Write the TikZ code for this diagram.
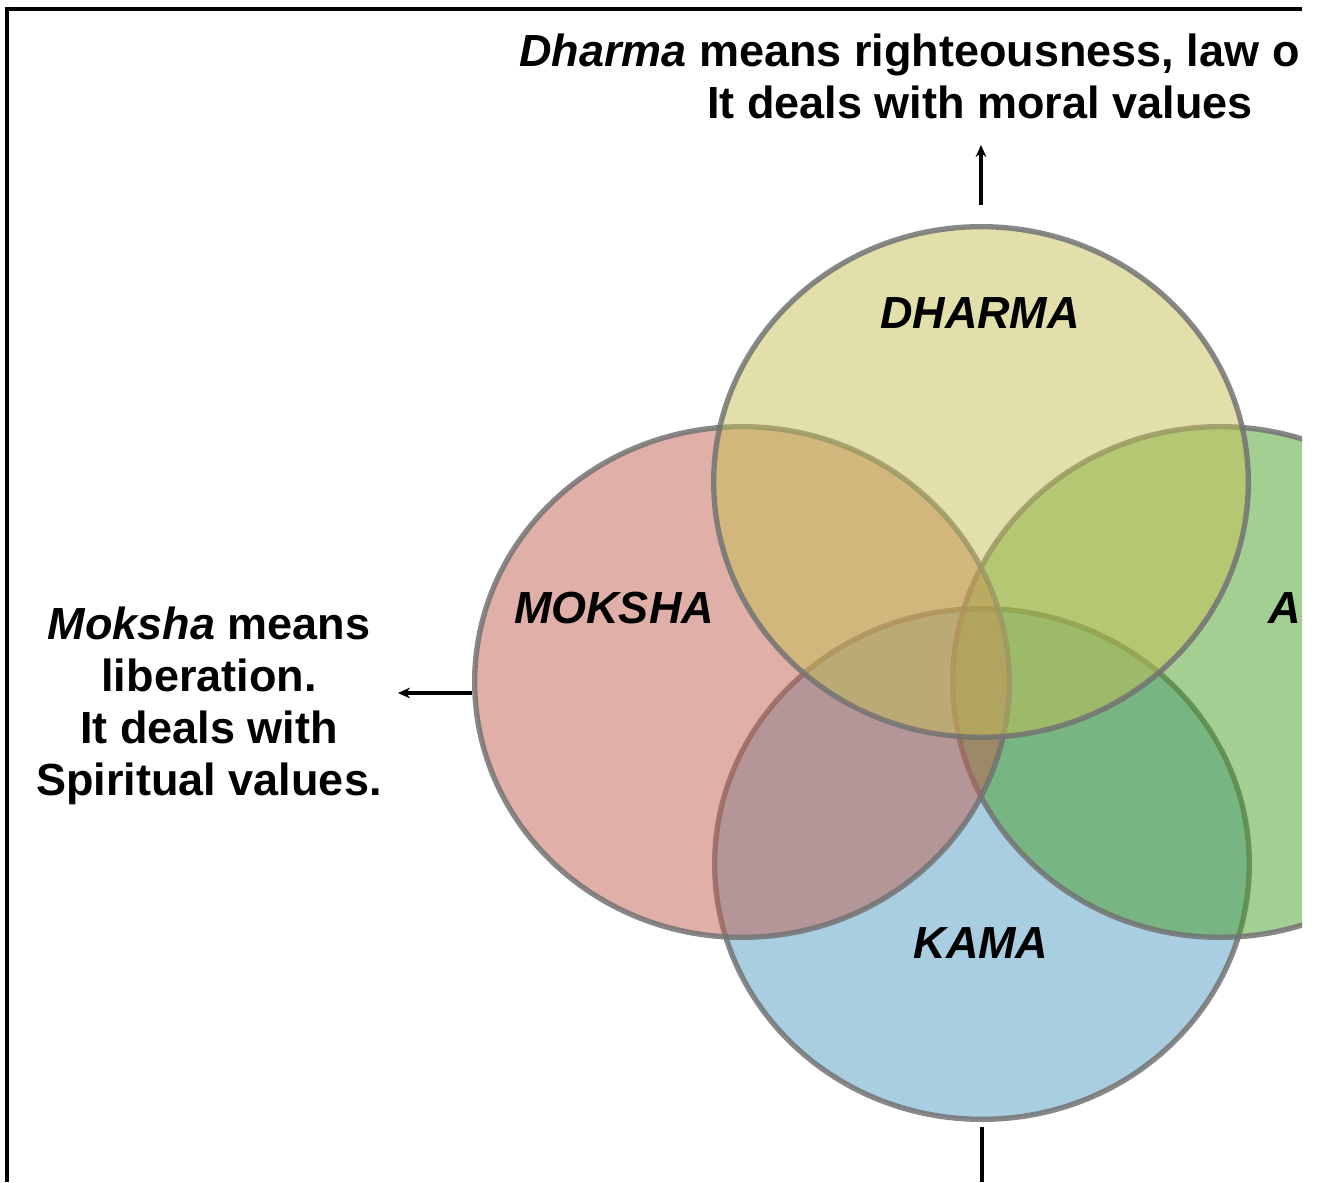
\documentclass[tikz,border=0pt]{standalone}
\usepackage{fontspec}
\setmainfont{Liberation Sans}
\usetikzlibrary{shapes.geometric,arrows.meta}

\definecolor{dharmacol}{RGB}{197,191,85}
\definecolor{mokshacol}{RGB}{193,95,81}
\definecolor{arthacol}{RGB}{71,159,37}
\definecolor{kamacol}{RGB}{83,155,195}
\definecolor{bordecol}{RGB}{115,115,115}

\tikzset{
	circulo/.style={ellipse, draw=bordecol, line width=4pt, draw opacity=0.85,
		fill opacity=0.5, minimum width=401pt, minimum height=383pt, inner sep=0pt},
	rotulo/.style={font=\fontsize{33.75}{39}\selectfont\bfseries\itshape, inner sep=0pt},
	texto/.style={font=\fontsize{33.75}{39}\selectfont\bfseries, inner sep=0pt},
	flecha/.style={line width=2.4pt, -{Stealth[length=9pt,width=8pt]}}
}

\begin{document}
\begin{tikzpicture}[x=0.75pt,y=-0.75pt]
\useasboundingbox (0,0) rectangle (1321,1182);
\clip (0,0) rectangle (1302,1182);

% Marco
\draw[line width=2.6pt] (1302,9) -- (7,9) -- (7,1182);

% Circulos
	\foreach \nombre/\x/\y/\col in {kama/982/864/kamacol, artha/1220/682/arthacol,
		moksha/742/682/mokshacol, dharma/981/482/dharmacol}
		\node[circulo, fill=\col] (\nombre) at (\x,\y) {};

% Rotulos
\node[rotulo, anchor=base] (ldharma) at (980,328) {DHARMA};
\node[rotulo, anchor=base] (lmoksha) at (614,623) {MOKSHA};
\node[rotulo, anchor=base] (lkama) at (981,958) {KAMA};
\node[rotulo, anchor=base west] (lartha) at (1268,623) {A};

% Textos
\node[texto, anchor=base west] (dtop1) at (519,66) {\textit{Dharma} means righteousness, law o};
\node[texto, anchor=base] (dtop2) at (980,118) {It deals with moral values};
\node[texto, align=center, anchor=north] (mtxt) at (209,607)
	{\textit{Moksha} means\\ liberation.\\ It deals with\\ Spiritual values.};

% Flechas
\coordinate (dtip) at (981,145);
\coordinate (mtip) at (398,693);
\coordinate (kfin) at (982,1182);
\draw[flecha] ([yshift=14pt]dharma.north) -- (dtip);
\draw[flecha] (moksha.west |- mtip) -- (mtip);
\draw[line width=2.4pt] ([yshift=-4pt]kama.south) -- (kfin);
\end{tikzpicture}
\end{document}
